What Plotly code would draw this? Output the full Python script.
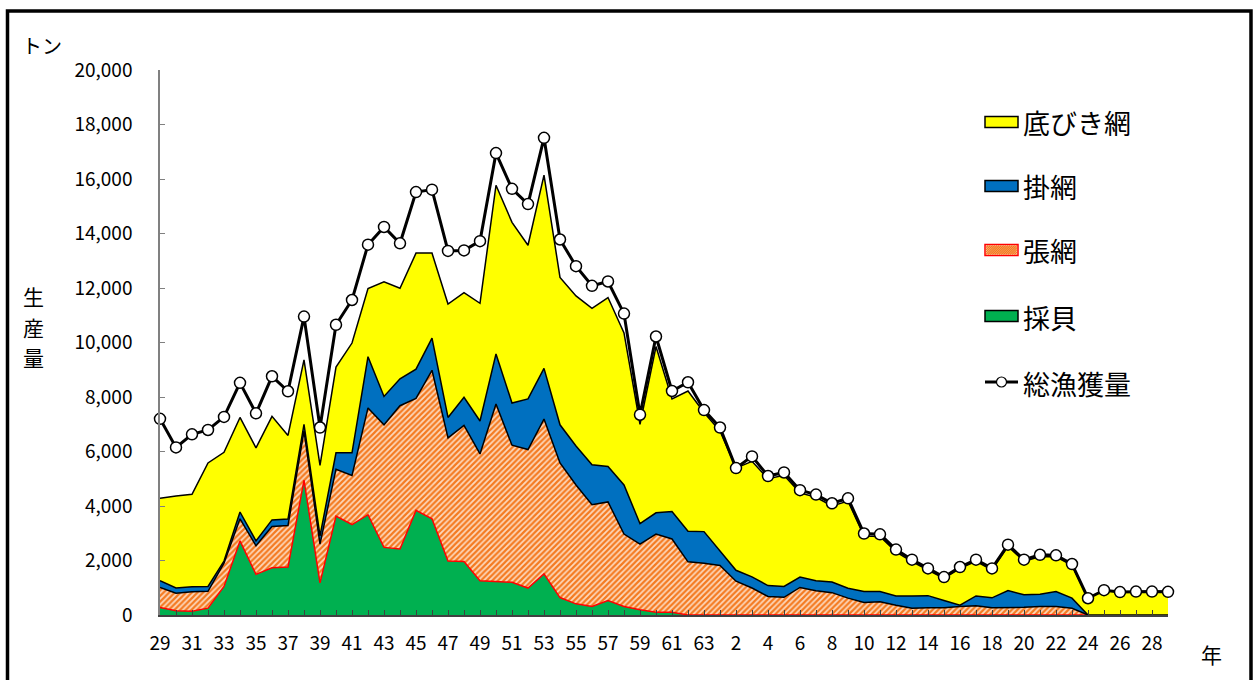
import plotly.graph_objects as go

# ---- data (tons) ----
showa = list(range(29, 64))          # S29..S63
heisei = list(range(1, 30))          # H1..H29
year_labels = [str(y) for y in showa] + [str(h) for h in heisei]

saikai = [280, 160, 140, 250, 1050, 2720, 1490, 1730, 1760, 4950,
          1180, 3630, 3320, 3680, 2480, 2420, 3840, 3530, 1980, 1960,
          1260, 1240, 1200, 990, 1510, 640, 410, 310, 530, 310,
          190, 100, 100, 0, 0, 0, 0, 0, 0, 0,
          0, 0, 0, 0, 0, 0, 0, 0, 0, 0,
          0, 0, 0, 0, 0, 0, 0, 0, 0, 0,
          0, 0, 0, 0]
hariami = [730, 640, 710, 620, 850, 810, 1050, 1520, 1520, 1800,
           1420, 1720, 1800, 3920, 4500, 5260, 4110, 5450, 4520, 5000,
           4650, 6500, 5030, 5080, 5680, 4940, 4360, 3740, 3620, 2660,
           2410, 2870, 2690, 1950, 1900, 1820, 1240, 990, 680, 650,
           1010, 890, 820, 620, 460, 490, 360, 250, 270, 270,
           310, 340, 270, 270, 280, 310, 310, 250, 0, 0,
           0, 0, 0, 0]
kakeami = [250, 190, 190, 180, 80, 250, 180, 240, 240, 250,
           300, 600, 830, 1880, 1040, 990, 1070, 1180, 750, 1030,
           1210, 1840, 1550, 1860, 1860, 1400, 1430, 1460, 1300, 1800,
           750, 780, 1010, 1120, 1160, 530, 400, 410, 400, 400,
           380, 370, 390, 360, 400, 370, 340, 450, 440, 260,
           50, 360, 360, 630, 460, 450, 550, 370, 0, 0,
           0, 0, 0, 0]
sokobiki = [3020, 3380, 3390, 4530, 3990, 3470, 3410, 3800, 3070, 2360,
            2590, 3150, 4030, 2500, 4210, 3320, 4260, 3120, 4160, 3840,
            4320, 6190, 6630, 5640, 7090, 5410, 5510, 5740, 6200, 5580,
            3650, 6100, 4130, 5150, 4370, 4400, 3750, 4240, 3920, 4080,
            3090, 3060, 2790, 3200, 2040, 2020, 1620, 1260, 940, 810,
            1350, 1270, 1020, 1620, 1230, 1390, 1270, 1200, 615, 910,
            840, 860, 860, 850]
total = [7200, 6150, 6630, 6790, 7270, 8520, 7400, 8760, 8210, 10950,
         6880, 10650, 11560, 13590, 14240, 13640, 15520, 15610, 13360, 13380,
         13720, 16950, 15640, 15080, 17510, 13780, 12800, 12080, 12240, 11060,
         7350, 10220, 8220, 8540, 7520, 6880, 5390, 5820, 5100, 5230,
         4580, 4420, 4100, 4280, 2990, 2960, 2400, 2030, 1710, 1390,
         1760, 2030, 1710, 2580, 2030, 2210, 2190, 1870, 615, 910,
         840, 860, 860, 850]

for arr in (saikai, hariami, kakeami, sokobiki, total):
    assert len(arr) == len(year_labels), len(arr)

x = list(range(len(year_labels)))

# ---- layout geometry ----
W, H = 1256, 680
L, R, T, B = 160, 88, 70, 65
PW, PH = W - L - R, H - T - B
FONT = "Noto Sans CJK JP"
HATCH = "#F47A20"
HATCH_BG = "#FDD9BD"


def px(xp):
    return (xp - L) / PW


def py(yp):
    return (H - B - yp) / PH


fig = go.Figure()

fig.add_trace(go.Scatter(x=x, y=saikai, name="採貝", stackgroup="s", mode="lines",
                         line=dict(color="#FF0000", width=1.5), fillcolor="#00B050"))
fig.add_trace(go.Scatter(x=x, y=hariami, name="張網", stackgroup="s", mode="lines",
                         line=dict(color="#000000", width=1.5), fillcolor=HATCH_BG,
                         fillpattern=dict(shape="/", fgcolor=HATCH, bgcolor=HATCH_BG,
                                          fgopacity=1, size=4, solidity=0.55)))
fig.add_trace(go.Scatter(x=x, y=kakeami, name="掛網", stackgroup="s", mode="lines",
                         line=dict(color="#000000", width=1.5), fillcolor="#0070C0"))
fig.add_trace(go.Scatter(x=x, y=sokobiki, name="底びき網", stackgroup="s", mode="lines",
                         line=dict(color="#000000", width=1.5), fillcolor="#FFFF00"))
fig.add_trace(go.Scatter(x=x, y=total, name="総漁獲量", mode="lines+markers",
                         cliponaxis=False,
                         line=dict(color="#000000", width=3),
                         marker=dict(symbol="circle", size=11, color="#FFFFFF",
                                     line=dict(color="#000000", width=1.5))))

ticktext = [lab if i % 2 == 0 else "" for i, lab in enumerate(year_labels)]

fig.update_layout(
    width=W, height=H,
    margin=dict(l=L, r=R, t=T, b=B),
    paper_bgcolor="white", plot_bgcolor="white",
    showlegend=False,
    font=dict(family=FONT, color="#000000"),
    xaxis=dict(range=[0, len(x) - 1], tickvals=x, ticktext=ticktext,
               ticks="inside", ticklen=5, tickcolor="#404040", tickwidth=1,
               showline=True, linecolor="#404040", linewidth=2,
               showgrid=False, zeroline=False,
               tickfont=dict(size=19, family=FONT), ticklabelstandoff=10),
    yaxis=dict(range=[0, 20000], dtick=2000, tickformat=",",
               ticks="inside", ticklen=5, tickcolor="#808080", tickwidth=1,
               showline=True, linecolor="#808080", linewidth=1.5,
               showgrid=False, zeroline=False,
               tickfont=dict(size=19, family=FONT), ticklabelstandoff=22),
)

shapes = []
# outer frame
shapes.append(dict(type="rect", xref="paper", yref="paper",
                   x0=px(7.5), x1=px(1251), y0=py(684), y1=py(11),
                   line=dict(color="#000000", width=3.5), fillcolor="rgba(0,0,0,0)", layer="above"))

# custom legend
lx0, lx1 = 985, 1018
items = [("底びき網", 122, "#FFFF00", "#000000"),
         ("掛網", 186, "#0070C0", "#000000"),
         ("張網", 250, HATCH_BG, "#FF0000"),
         ("採貝", 316, "#00B050", "#000000")]
annos = []
for name, cy, fc, lc in items:
    shapes.append(dict(type="rect", xref="paper", yref="paper",
                       x0=px(lx0), x1=px(lx1), y0=py(cy + 5.5), y1=py(cy - 5.5),
                       line=dict(color=lc, width=1.5), fillcolor=fc))
    annos.append(dict(text=name, xref="paper", yref="paper", x=px(1021), y=py(cy + 1),
                      xanchor="left", yanchor="middle", showarrow=False,
                      font=dict(size=27, family=FONT, color="#000000")))
# hatch lines in the 張網 legend box
bx0, bx1, by0, by1 = lx0 + 1, lx1 - 1, 250 - 4.5, 250 + 4.5
segs = []
c = bx0 + by0
while c < bx1 + by1:
    xa = max(bx0, c - by1)
    xb = min(bx1, c - by0)
    if xb > xa:
        segs.append(f"M{px(xa)},{py(c - xa)} L{px(xb)},{py(c - xb)}")
    c += 2.2
shapes.append(dict(type="path", xref="paper", yref="paper", path=" ".join(segs),
                   line=dict(color=HATCH, width=1.2)))

# total legend line with marker
ly = 382
shapes.append(dict(type="line", xref="paper", yref="paper", x0=px(lx0), x1=px(lx1),
                   y0=py(ly), y1=py(ly), line=dict(color="#000000", width=3)))
shapes.append(dict(type="circle", xref="paper", yref="paper",
                   x0=px(1001.5 - 5), x1=px(1001.5 + 5), y0=py(ly + 5), y1=py(ly - 5),
                   line=dict(color="#000000", width=1.2), fillcolor="#FFFFFF"))
annos.append(dict(text="総漁獲量", xref="paper", yref="paper", x=px(1021), y=py(ly + 1),
                  xanchor="left", yanchor="middle", showarrow=False,
                  font=dict(size=27, family=FONT, color="#000000")))

# axis titles
annos.append(dict(text="トン", xref="paper", yref="paper", x=px(42), y=py(45),
                  xanchor="center", yanchor="middle", showarrow=False,
                  font=dict(size=20, family=FONT)))
for ch, cy in zip("生産量", (296, 326.5, 357)):
    annos.append(dict(text=ch, xref="paper", yref="paper", x=px(33), y=py(cy),
                      xanchor="center", yanchor="middle", showarrow=False, borderpad=0,
                      font=dict(size=21, family=FONT)))
annos.append(dict(text="年", xref="paper", yref="paper", x=px(1211), y=py(654),
                  xanchor="center", yanchor="middle", showarrow=False,
                  font=dict(size=21, family=FONT)))

fig.update_layout(shapes=shapes, annotations=annos)

fig.write_html("out.html", config={"displayModeBar": False},
               post_script="document.body.style.margin='0';")
